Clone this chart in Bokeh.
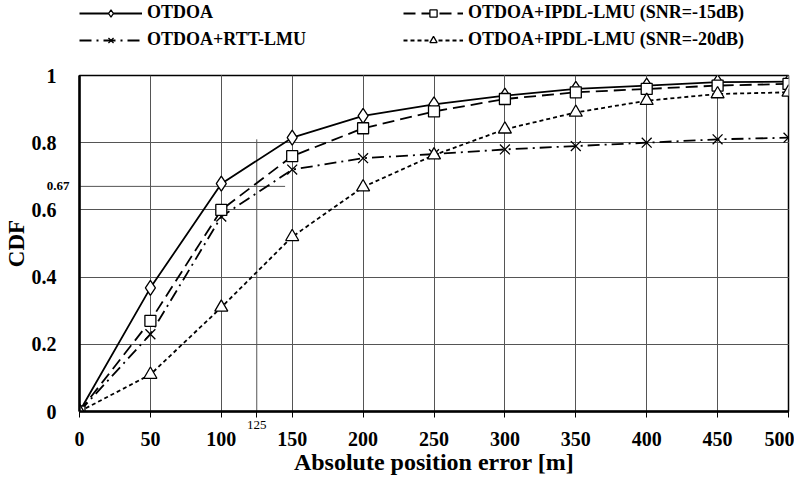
from bokeh.plotting import figure
from bokeh.layouts import column
from bokeh.models import (Range1d, FixedTicker, Legend, LegendItem, LinearAxis, Grid)
from bokeh.embed import file_html
from bokeh.resources import INLINE

# ---- data ----
x_err = [0, 50, 100, 150, 200, 250, 300, 350, 400, 450, 500]
otdoa = [0.0, 0.368, 0.678, 0.815, 0.88, 0.914, 0.94, 0.96, 0.97, 0.98, 0.982]
rtt = [0.0, 0.23, 0.58, 0.72, 0.754, 0.766, 0.78, 0.79, 0.80, 0.81, 0.815]
ipdl15 = [0.0, 0.27, 0.60, 0.76, 0.843, 0.893, 0.93, 0.95, 0.96, 0.97, 0.975]
ipdl20 = [0.0, 0.11, 0.31, 0.52, 0.668, 0.763, 0.84, 0.89, 0.925, 0.945, 0.95]

x_ticks = [0, 50, 100, 150, 200, 250, 300, 350, 400, 450, 500]
y_ticks = [0, 0.2, 0.4, 0.6, 0.8, 1.0]
y_tick_labels = ["0", "0.2", "0.4", "0.6", "0.8", "1"]

annot_x = 125
annot_y = 0.67
annot_h_end = 145
annot_v_top = 0.81

FONT = "Liberation Serif"
LEG_H = 52

p = figure(width=794, height=477 - LEG_H, output_backend="svg",
           toolbar_location=None,
           x_range=Range1d(0, 500), y_range=Range1d(0, 1),
           x_axis_location=None, y_axis_location=None,
           min_border_left=70, min_border_right=6, min_border_top=23,
           min_border_bottom=60)
p.background_fill_color = "white"
p.outline_line_color = "black"
p.outline_line_width = 1.5


def style_axis(ax, size):
    ax.major_label_text_font = FONT
    ax.major_label_text_font_style = "bold"
    ax.major_label_text_font_size = size
    ax.major_label_text_color = "black"
    ax.axis_label_text_font = FONT
    ax.axis_label_text_font_style = "bold"
    ax.axis_label_text_font_size = "24px"
    ax.axis_label_text_color = "black"
    ax.minor_tick_line_color = None


# inner x axis: tick marks + small "125" label
x_inner = LinearAxis(ticker=FixedTicker(ticks=x_ticks + [annot_x]))
ov = {t: "" for t in x_ticks}
ov[annot_x] = str(annot_x)
x_inner.major_label_overrides = ov
style_axis(x_inner, "13px")
x_inner.major_label_text_font_style = "normal"
x_inner.axis_line_color = "black"
x_inner.axis_line_width = 2.5
x_inner.major_tick_out = 6
x_inner.major_tick_in = 0
x_inner.major_label_standoff = 3
p.add_layout(x_inner, "below")

# outer x axis: main labels + title
x_main = LinearAxis(ticker=FixedTicker(ticks=x_ticks),
                    axis_label="Absolute position error [m]")
style_axis(x_main, "20px")
x_main.axis_line_color = None
x_main.major_tick_line_color = None
x_main.major_tick_out = 0
x_main.major_tick_in = 0
x_main.major_label_standoff = 0
x_main.axis_label_standoff = 0
p.add_layout(x_main, "below")

# inner y axis: small "0.67" label
y_inner = LinearAxis(ticker=FixedTicker(ticks=[annot_y]))
y_inner.major_label_overrides = {annot_y: str(annot_y)}
style_axis(y_inner, "13px")
y_inner.axis_line_color = "black"
y_inner.axis_line_width = 2.5
y_inner.major_tick_line_color = None
y_inner.major_tick_out = 0
y_inner.major_tick_in = 0
y_inner.major_label_standoff = 10
p.add_layout(y_inner, "left")

# outer y axis: main labels + title
y_main = LinearAxis(ticker=FixedTicker(ticks=y_ticks), axis_label="CDF")
y_main.major_label_overrides = {t: l for t, l in zip(y_ticks, y_tick_labels)}
style_axis(y_main, "20px")
y_main.axis_label_text_font_size = "23px"
y_main.axis_line_color = None
y_main.major_tick_line_color = None
y_main.major_tick_out = 0
y_main.major_tick_in = 0
y_main.major_label_standoff = -13
y_main.axis_label_standoff = 0
p.add_layout(y_main, "left")

xg = Grid(dimension=0, ticker=FixedTicker(ticks=x_ticks),
          grid_line_color="#555555", grid_line_width=1)
yg = Grid(dimension=1, ticker=FixedTicker(ticks=y_ticks),
          grid_line_color="#555555", grid_line_width=1)
p.add_layout(xg)
p.add_layout(yg)

# annotation lines
p.segment(x0=[0], y0=[annot_y], x1=[annot_h_end], y1=[annot_y],
          line_color="#555555", line_width=1)
p.segment(x0=[annot_x], y0=[0], x1=[annot_x], y1=[annot_v_top],
          line_color="#555555", line_width=1)

series = [
    ("OTDOA", otdoa, "solid", "diamond", 15),
    ("OTDOA+RTT-LMU", rtt, "12 5 2 5", "x", 14),
    ("OTDOA+IPDL-LMU (SNR=-15dB)", ipdl15, "12 6", "square", 11),
    ("OTDOA+IPDL-LMU (SNR=-20dB)", ipdl20, "4 3", "triangle", 13),
]

# legend strip (separate figure above the chart; its data lies out of view)
leg = figure(width=794, height=LEG_H, output_backend="svg",
             toolbar_location=None,
             x_range=Range1d(10000, 10001), y_range=Range1d(10000, 10001),
             x_axis_location=None, y_axis_location=None,
             min_border_left=0, min_border_right=0, min_border_top=0,
             min_border_bottom=0)
leg.outline_line_color = None
leg.xgrid.visible = False
leg.ygrid.visible = False

items = []
for name, ys, dash, marker, size in series:
    p.line(x_err, ys, line_color="black", line_width=1.8, line_dash=dash)
    p.scatter(x_err, ys, marker=marker, size=size, fill_color="white",
              line_color="black", line_width=1.3)
    l1 = leg.line(x_err, ys, line_color="black", line_width=1.8, line_dash=dash)
    l2 = leg.scatter(x_err, ys, marker=marker, size=size, fill_color="white",
                     line_color="black", line_width=1.3)
    items.append(LegendItem(label=name, renderers=[l1, l2]))


def make_legend(its, x, gw):
    return Legend(items=its, location=(x, LEG_H - 50), orientation="vertical",
                  glyph_width=gw, glyph_height=18, label_height=18,
                  spacing=6, padding=0, margin=0, label_standoff=5,
                  border_line_color=None, background_fill_alpha=0,
                  label_text_font=FONT, label_text_font_style="bold",
                  label_text_font_size="18px", label_text_color="black")


leg.add_layout(make_legend(items[:2], 0, 63))
leg.add_layout(make_legend(items[2:], 324, 60))

layout = column(leg, p, spacing=0)
open("out.html", "w").write(file_html(layout, INLINE))
